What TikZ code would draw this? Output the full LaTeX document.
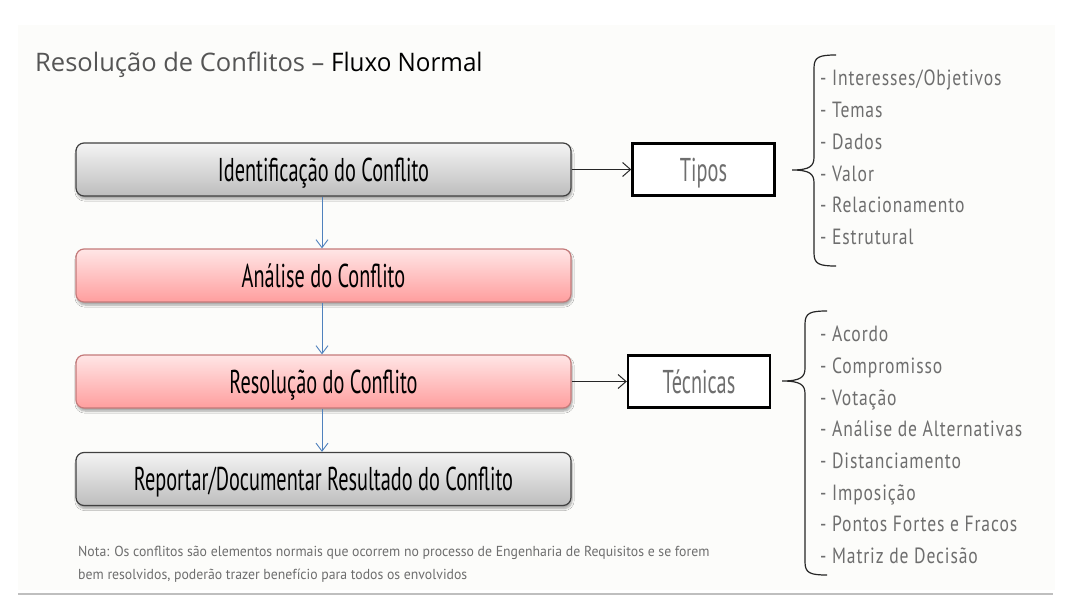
\documentclass[tikz,border=0pt]{standalone}
\usepackage{fontspec}
\usetikzlibrary{arrows.meta,shadows.blur}
\setmainfont{Open Sans}
\newfontfamily\agency[FakeStretch=0.615]{PT Sans}
\newfontfamily\agencyl[FakeStretch=0.8,LetterSpace=4]{PT Sans}
\newfontfamily\agencyn[FakeStretch=0.95]{PT Sans}
\definecolor{bgpanel}{HTML}{FCFCFA}
\definecolor{graytop}{HTML}{F4F4F4}
\definecolor{graybot}{HTML}{BDBDBD}
\definecolor{pinktop}{HTML}{FFE6E6}
\definecolor{pinkbot}{HTML}{FF9E9E}
\definecolor{pinkline}{HTML}{C47A7A}
\definecolor{flowblue}{HTML}{4F81BD}
\definecolor{txtgray}{HTML}{6E6E6E}
\definecolor{titlegray}{HTML}{555555}
\tikzset{
  flowbox/.style={draw=black!75, line width=1.2pt, rounded corners=8pt,
    minimum width=495pt, minimum height=53pt, inner sep=0pt,
    text height=25pt, text depth=2pt,
    font=\agency\fontsize{33}{36}\selectfont,
    blur shadow={shadow xshift=1pt, shadow yshift=-3pt, shadow blur steps=6, shadow opacity=35}},
  graybox/.style={flowbox, top color=graytop, bottom color=graybot},
  pinkbox/.style={flowbox, draw=pinkline, top color=pinktop, bottom color=pinkbot},
  catbox/.style={draw=black, line width=2.4pt, fill=white, minimum width=142pt,
    minimum height=52pt, inner sep=0pt, text=txtgray,
    text height=25pt, text depth=2pt,
    font=\agency\fontsize{33}{36}\selectfont},
  listitem/.style={anchor=west, inner sep=0pt, text=txtgray,
    text height=20pt, text depth=4.6pt,
    font=\agencyl\fontsize{22}{26}\selectfont},
  notetext/.style={anchor=base west, inner sep=0pt, text=txtgray,
    font=\agencyn\fontsize{14.5}{18}\selectfont},
  flowarrow/.style={draw=flowblue, line width=0.9pt, -{Straight Barb[length=8pt,width=12pt,line width=0.9pt]}},
  catarrow/.style={draw=black!85, line width=1pt, -{Straight Barb[length=8pt,width=14pt,line width=1pt]}},
  bracestyle/.style={draw=black!85, line width=1.2pt},
}
\begin{document}
\begin{tikzpicture}[x=1pt,y=-1pt]
\useasboundingbox (0,0) rectangle (1076,613);
\fill[white] (0,0) rectangle (1076,613);
\fill[bgpanel] (18,25) rectangle (1055,590);
\draw[black!25, line width=1.2pt] (18,594) -- (1053,594);

\node[anchor=base west, inner sep=0pt, font=\fontsize{25.5}{30}\selectfont] (title) at (35,71)
  {\textcolor{titlegray}{Resolução de Conflitos –} \textcolor{black}{\addfontfeature{FakeStretch=0.95}Fluxo Normal}};

\node[graybox] (id)  at (323.5,169.5) {Identificação do Conflito};
\node[pinkbox] (an)  at (323.5,275.5) {Análise do Conflito};
\node[pinkbox] (res) at (323.5,381.5) {Resolução do Conflito};
\node[graybox] (rep) at (323.5,479) {Reportar/Documentar Resultado do Conflito};

\draw[flowarrow] (id.south -| 322,0) -- (an.north -| 322,0);
\draw[flowarrow] (an.south -| 322,0) -- (res.north -| 322,0);
\draw[flowarrow] (res.south -| 322,0) -- (rep.north -| 322,0);

\node[catbox] (tipos) at (703.5,169.5) {Tipos};
\node[catbox] (tec)   at (699,381.5) {Técnicas};
\draw[catarrow] (id.east) -- (tipos.west);
\draw[catarrow] (res.east) -- (tec.west);

% braces
\coordinate (b1) at (792,170);
\coordinate (b2) at (782,381);
\draw[bracestyle] (836,55) .. controls (819,55) and (814,57) .. (814,68) -- (814,157)
  .. controls (814,166) and (810,170) .. (b1)
  .. controls (810,170) and (814,174) .. (814,183) -- (814,253)
  .. controls (814,264) and (819,266) .. (836,266);
\draw[bracestyle] (827,311) .. controls (810,311) and (805,313) .. (805,324) -- (805,368)
  .. controls (805,377) and (801,381) .. (b2)
  .. controls (801,381) and (805,385) .. (805,394) -- (805,562)
  .. controls (805,573) and (810,575) .. (827,575);

\foreach \t [count=\i] in {Interesses/Objetivos,Temas,Dados,Valor,Relacionamento,Estrutural}
  \node[listitem] (tp\i) at (820,{78+31.8*(\i-1)}) {- \t};
\foreach \t [count=\i] in {Acordo,Compromisso,Votação,Análise de Alternativas,Distanciamento,Imposição,Pontos Fortes e Fracos,Matriz de Decisão}
  \node[listitem] (tc\i) at (820,{334+31.7*(\i-1)}) {- \t};

\node[notetext] (nota1) at (78,556)
  {Nota: Os conflitos são elementos normais que ocorrem no processo de Engenharia de Requisitos e se forem};
\node[notetext] (nota2) at (78,579)
  {bem resolvidos, poderão trazer benefício para todos os envolvidos};
\end{tikzpicture}
\end{document}
